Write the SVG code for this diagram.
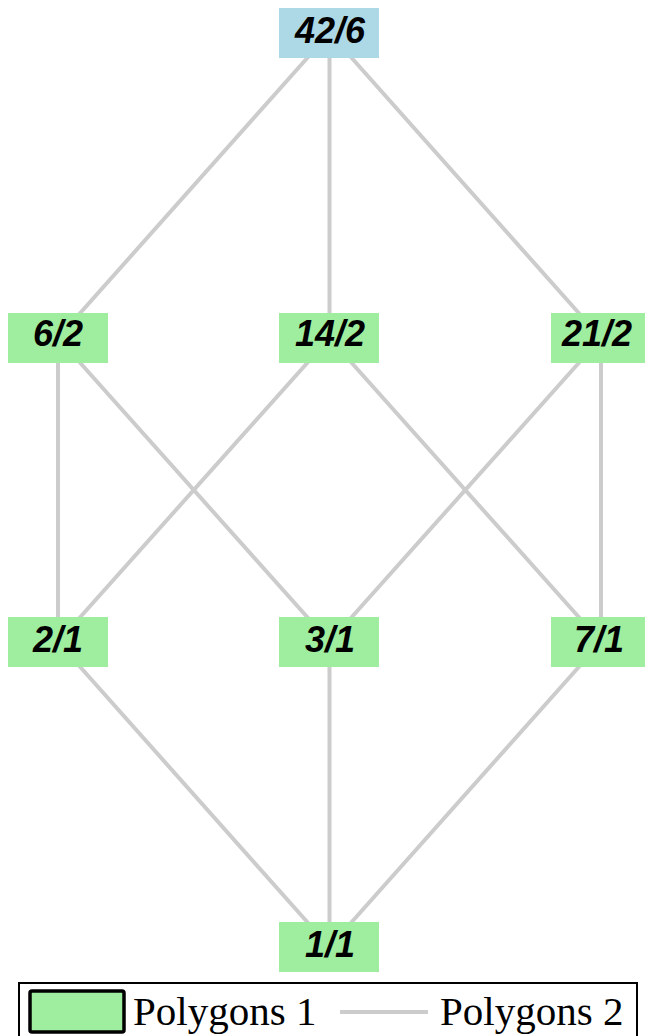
<svg xmlns="http://www.w3.org/2000/svg" width="645" height="1036" viewBox="0 0 645 1036">
<style>
.edge{stroke:#cccccc;stroke-width:4;fill:none}
.n rect{stroke:none}
.g{fill:#9fee9f}
.b{fill:#add8e6}
.lbl{font-family:"Liberation Sans",Arial,sans-serif;font-weight:bold;font-style:italic;font-size:36px;fill:#000;text-anchor:middle}
.leg{font-family:"Liberation Serif","Times New Roman",serif;font-size:41px;fill:#000}
</style>
<rect width="645" height="1036" fill="#ffffff"/>
<g id="connectors">
<line class="edge" x1="329.5" y1="33" x2="58" y2="338"/>
<line class="edge" x1="329.5" y1="33" x2="329.5" y2="338"/>
<line class="edge" x1="329.5" y1="33" x2="601" y2="338"/>
<line class="edge" x1="58" y1="338" x2="58" y2="642"/>
<line class="edge" x1="58" y1="338" x2="329.5" y2="642"/>
<line class="edge" x1="329.5" y1="338" x2="58" y2="642"/>
<line class="edge" x1="329.5" y1="338" x2="601" y2="642"/>
<line class="edge" x1="601" y1="338" x2="329.5" y2="642"/>
<line class="edge" x1="601" y1="338" x2="601" y2="642"/>
<line class="edge" x1="58" y1="642" x2="329.5" y2="947"/>
<line class="edge" x1="329.5" y1="642" x2="329.5" y2="947"/>
<line class="edge" x1="601" y1="642" x2="329.5" y2="947"/>
</g>
<g id="n42_6" class="n"><rect class="b" x="279" y="8" width="100" height="50"/><text class="lbl" x="330" y="43">42/6</text></g>
<g id="n6_2" class="n"><rect class="g" x="8" y="313" width="100" height="50"/><text class="lbl" x="58" y="346">6/2</text></g>
<g id="n14_2" class="n"><rect class="g" x="279" y="313" width="100" height="50"/><text class="lbl" x="330" y="346">14/2</text></g>
<g id="n21_2" class="n"><rect class="g" x="551" y="313" width="100" height="50"/><text class="lbl" x="597" y="346">21/2</text></g>
<g id="n2_1" class="n"><rect class="g" x="8" y="617" width="100" height="50"/><text class="lbl" x="58" y="652">2/1</text></g>
<g id="n3_1" class="n"><rect class="g" x="279" y="617" width="100" height="50"/><text class="lbl" x="330" y="652">3/1</text></g>
<g id="n7_1" class="n"><rect class="g" x="551" y="617" width="100" height="50"/><text class="lbl" x="599" y="652">7/1</text></g>
<g id="n1_1" class="n"><rect class="g" x="279" y="922" width="100" height="50"/><text class="lbl" x="330" y="957">1/1</text></g>
<g id="legend">
<rect x="19" y="983" width="618" height="60" fill="#ffffff" stroke="#000000" stroke-width="2"/>
<rect x="30" y="991" width="94" height="41" rx="2" fill="#9fee9f" stroke="#000000" stroke-width="3.5"/>
<text class="leg" x="133" y="1025">Polygons 1</text>
<line x1="340" y1="1012" x2="428" y2="1012" stroke="#cccccc" stroke-width="4"/>
<text class="leg" x="440" y="1025">Polygons 2</text>
</g>
</svg>
